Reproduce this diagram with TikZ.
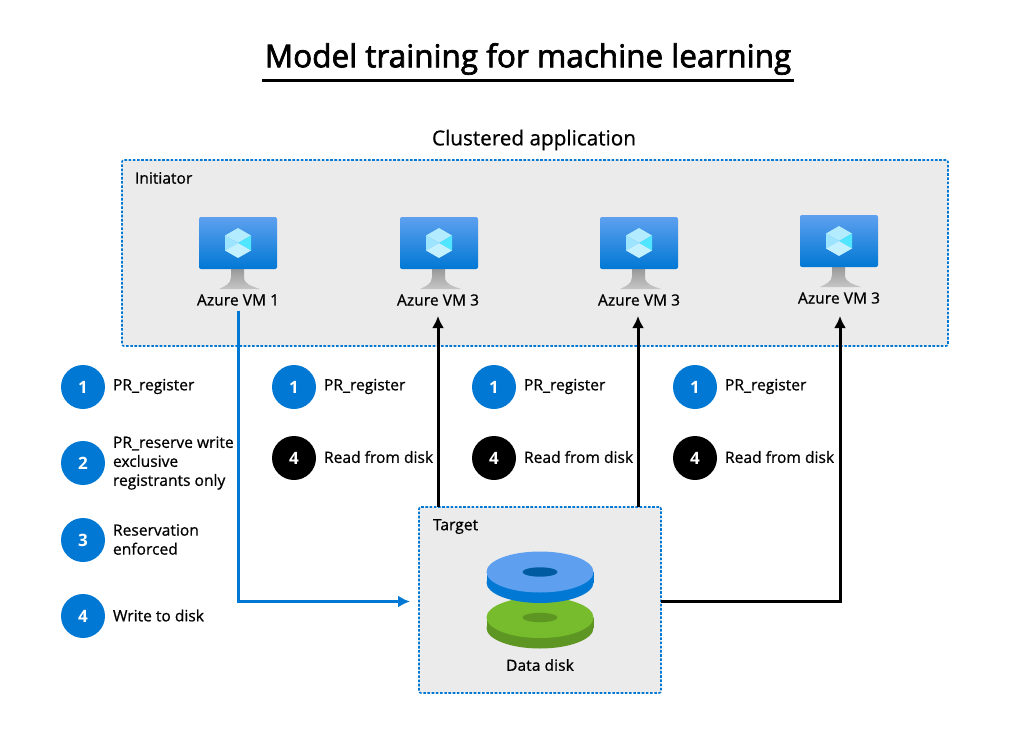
\documentclass[tikz,border=0pt]{standalone}
\usepackage{fontspec}
\setmainfont{Open Sans}
\newfontfamily\labfont[FakeBold=0.7]{Open Sans}
\newfontfamily\vmfont[FakeBold=0.9,LetterSpace=1]{Open Sans}
\newfontfamily\ttlfont[FakeBold=2.2]{Open Sans}
\usetikzlibrary{arrows.meta,calc}
\definecolor{azblue}{HTML}{0078D4}
\definecolor{boxgray}{HTML}{EBEBEB}
\definecolor{scrtop}{HTML}{5EA0EF}
\definecolor{dskgreen}{HTML}{76BC2D}
\definecolor{dskdark}{HTML}{5E9624}
\definecolor{holeblue}{HTML}{005BA1}
\definecolor{cubetop}{HTML}{B4ECFF}
\definecolor{cubeleft}{HTML}{9CE4FF}
\definecolor{cuberight}{HTML}{50E6FF}
\definecolor{cubelow}{HTML}{C3F1FF}
\tikzset{
  every node/.style={inner sep=0pt,outer sep=0pt,text=black},
  lab/.style={font=\labfont\fontsize{15.6}{19}\selectfont,align=left,anchor=west},
  vmlab/.style={font=\vmfont\fontsize{15.4}{19}\selectfont,anchor=center},
  badge/.style={circle,minimum size=44pt,fill=#1,text=white,font=\fontsize{17}{20}\selectfont\bfseries},
  area/.style={draw=azblue,fill=boxgray,line width=1.6pt,dash pattern=on 2.6pt off 1.6pt,rounded corners=2pt},
  blink/.style={draw=azblue,line width=3pt,-{Latex[length=12pt,width=12pt]}},
  klink/.style={draw=black,line width=3pt,-{Latex[length=12pt,width=12pt]}},
}
% \vmicon{x}{y}: top-left corner of the screen
\newcommand{\vmicon}[2]{%
  \begin{scope}[shift={(#1,#2)}]
    \shade[top color=gray!80,middle color=gray!15,bottom color=gray!45]
      (32,52) -- (32,60) .. controls (32,67) and (26,69) .. (20,72) -- (61,72) .. controls (52,69) and (45,67) .. (45,60) -- (45,52) -- cycle;
    \shade[top color=scrtop,bottom color=azblue,rounded corners=2pt] (0,0) rectangle (78,52);
    \fill[cubetop] (39,11) -- (52,18.5) -- (39,26) -- (26,18.5) -- cycle;
    \fill[cubeleft] (26,18.5) -- (39,26) -- (26,33.5) -- cycle;
    \fill[cuberight] (52,18.5) -- (39,26) -- (52,33.5) -- cycle;
    \fill[cubelow] (26,33.5) -- (39,26) -- (52,33.5) -- (39,41) -- cycle;
  \end{scope}}
\newcommand{\diskicon}[5]{% cx, cy, top, side, hole
  \fill[#4] (#1,#2+10.5) ellipse[x radius=53.5,y radius=20.5];
  \fill[#4] (#1-53.5,#2) rectangle (#1+53.5,#2+10.5);
  \fill[#3] (#1,#2) ellipse[x radius=53.5,y radius=20.5];
  \fill[#5] (#1,#2) ellipse[x radius=17.5,y radius=4.7];}
\begin{document}
\begin{tikzpicture}[x=1pt,y=-1pt]
\useasboundingbox (0,0) rectangle (1011,754);
\fill[white] (0,0) rectangle (1011,754);

\node[font=\ttlfont\fontsize{31.5}{36}\selectfont] (title) at (528,59) {Model training for machine learning};
\coordinate (ulL) at (262,81);
\coordinate (ulR) at (794,81);
\draw[line width=3pt] (ulL) -- (ulR);
\node[font=\labfont\fontsize{20.7}{24}\selectfont] (clustered) at (534,140) {Clustered application};

% Initiator
\node[area,minimum width=826pt,minimum height=186pt,anchor=north west] (initiator) at (122,160) {};
\node[lab] (inittxt) at (135,178) {Initiator};
\vmicon{199}{217}
\vmicon{400}{217}
\vmicon{600}{217}
\vmicon{800}{215}
\node[vmlab] (vm1) at (238,300) {Azure VM 1};
\node[vmlab] (vm2) at (438,300) {Azure VM 3};
\node[vmlab] (vm3) at (639,300) {Azure VM 3};
\node[vmlab] (vm4) at (839,298) {Azure VM 3};

% Target
\node[area,minimum width=242pt,minimum height=186pt,anchor=north west] (target) at (419,507) {};
\node[lab] (tgttxt) at (433,526.5) {Target};
\diskicon{540}{617.5}{dskgreen}{dskdark}{dskdark}
\diskicon{540}{572}{scrtop}{azblue}{holeblue}
\node[vmlab] (disk) at (540,665) {Data disk};

% Connectors
\coordinate (vm1foot) at ($(vm1.south)+(0,5)$);
\coordinate (vm2foot) at (438,316);
\coordinate (vm3foot) at (638,316);
\coordinate (vm4foot) at (840,316);
\coordinate (tgtin) at ($(target.west)+(0,1.5)$);
\coordinate (tgtout) at ($(target.east)+(0,1.5)$);
\draw[blink,shorten >=9pt] (vm1foot) |- (tgtin);
\draw[klink] (vm2foot |- target.north) -- (vm2foot);
\draw[klink] (vm3foot |- target.north) -- (vm3foot);
\draw[klink] (tgtout) -| (vm4foot);

% Left list
\node[badge=azblue] (a1) at (83,387) {1};
\node[badge=azblue] (a2) at (83,463) {2};
\node[badge=azblue] (a3) at (83,540) {3};
\node[badge=azblue] (a4) at (83,616) {4};
\node[lab] (t1) at (113,386.5) {PR\_register};
\node[lab] (t2) at (113,463) {PR\_reserve write\\exclusive\\registrants only};
\node[lab] (t3) at (113,539.5) {Reservation\\enforced};
\node[lab] (t4) at (113,615.5) {Write to disk};

% Columns
\foreach \nm/\cx in {b/294,c/494,d/695}{
  \node[badge=azblue] (\nm1) at (\cx,387) {1};
  \node[badge=black] (\nm4) at (\cx,458) {4};
  \node[lab] (\nm t1) at (\cx+30,386.5) {PR\_register};
  \node[lab] (\nm t4) at (\cx+30,457) {Read from disk};
}
\end{tikzpicture}
\end{document}
